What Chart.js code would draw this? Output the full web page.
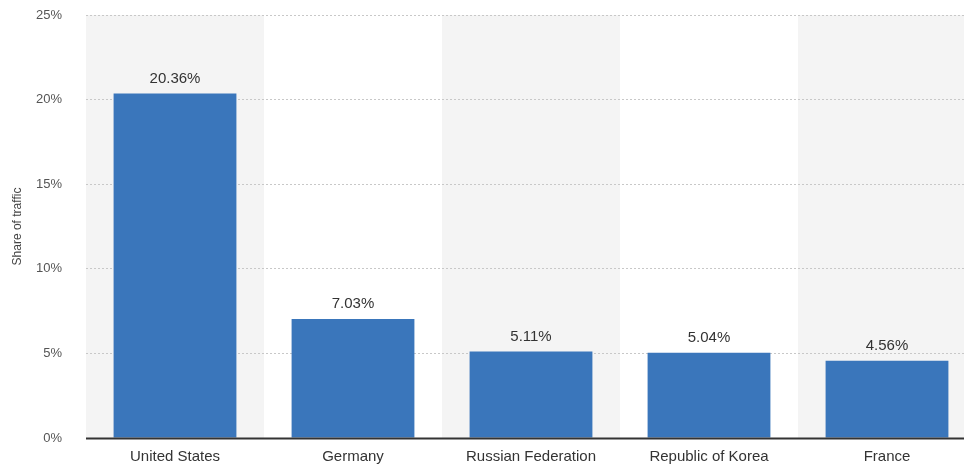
<!DOCTYPE html>
<html>
<head>
<meta charset="utf-8">
<script src="https://cdn.jsdelivr.net/npm/chart.js@4.4.0/dist/chart.umd.min.js"></script>
<style>
  html, body { margin: 0; padding: 0; background: #fff; overflow: hidden; }
  #wrap { width: 976px; height: 464px; }
</style>
</head>
<body>
<div id="wrap"><canvas id="chart"></canvas></div>
<script>
// datos
const paises = ['United States', 'Germany', 'Russian Federation', 'Republic of Korea', 'France'];
const cuota = [20.36, 7.03, 5.11, 5.04, 4.56];
const etiquetasValor = ['20.36%', '7.03%', '5.11%', '5.04%', '4.56%'];

const fuente = '"Liberation Sans", Arial, sans-serif';

// columnas grises alternas detrás de las barras
const fondoColumnas = {
  id: 'fondoColumnas',
  beforeDraw(chart) {
    const { ctx, chartArea, scales } = chart;
    const x = scales.x;
    const ancho = (chartArea.right - chartArea.left) / paises.length;
    ctx.save();
    ctx.fillStyle = '#f4f4f4';
    paises.forEach((p, i) => {
      if (i % 2 === 0) {
        const cx = x.getPixelForValue(i);
        ctx.fillRect(cx - ancho / 2, chartArea.top, ancho, chartArea.bottom - chartArea.top);
      }
    });
    ctx.restore();
  }
};

// línea base y etiquetas encima de las barras
const etiquetas = {
  id: 'etiquetas',
  afterDatasetsDraw(chart) {
    const { ctx, chartArea } = chart;
    const meta = chart.getDatasetMeta(0);
    ctx.save();
    ctx.strokeStyle = '#333';
    ctx.lineWidth = 2;
    ctx.beginPath();
    ctx.moveTo(chartArea.left, chartArea.bottom + 0.5);
    ctx.lineTo(chartArea.right, chartArea.bottom + 0.5);
    ctx.stroke();

    ctx.fillStyle = '#333';
    ctx.font = '15px ' + fuente;
    ctx.textAlign = 'center';
    ctx.textBaseline = 'middle';
    meta.data.forEach((bar, i) => {
      ctx.fillText(etiquetasValor[i], bar.x, bar.y - 15);
    });
    ctx.restore();
  }
};

new Chart(document.getElementById('chart'), {
  type: 'bar',
  data: {
    labels: paises,
    datasets: [{
      data: cuota,
      backgroundColor: '#3a76bb',
      borderWidth: 0,
      barPercentage: 0.69,
      categoryPercentage: 1
    }]
  },
  options: {
    responsive: true,
    maintainAspectRatio: false,
    animation: false,
    layout: { padding: { left: 4, top: 15, right: 0, bottom: 0 } },
    plugins: {
      legend: { display: false },
      tooltip: { enabled: false }
    },
    scales: {
      x: {
        afterFit(scale) { scale.height = 26; },
        grid: { display: false, drawTicks: false },
        border: { display: false },
        ticks: {
          color: '#333',
          padding: 10,
          font: { family: fuente, size: 15 },
          maxRotation: 0
        }
      },
      y: {
        min: 0,
        max: 25,
        afterFit(scale) {
          scale.width = 82;
          scale.paddingTop = 0;
          scale.paddingBottom = 0;
        },
        ticks: {
          stepSize: 5,
          color: '#555',
          padding: 24,
          font: { family: fuente, size: 13 },
          callback: v => v + '%'
        },
        grid: { color: '#c8c8c8', lineWidth: 1, drawTicks: false },
        border: { display: false, dash: [2, 2] },
        title: {
          display: true,
          text: 'Share of traffic',
          color: '#444',
          padding: { top: 6, bottom: 4 },
          font: { family: fuente, size: 12 }
        }
      }
    }
  },
  plugins: [fondoColumnas, etiquetas]
});
</script>
</body>
</html>
